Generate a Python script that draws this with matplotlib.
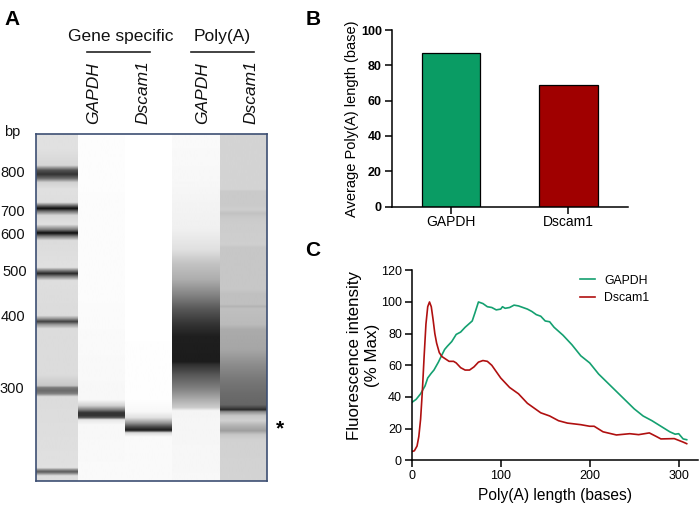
import numpy as np
import matplotlib
matplotlib.use("Agg")
import matplotlib.pyplot as plt

plt.rcParams['font.family'] = ['Liberation Sans', 'DejaVu Sans']

W, H = 699, 511

# Panel B
bar_names = ['GAPDH', 'Dscam1']
bar_values = [87, 69]
bar_colors = ['#0A9C64', '#A00000']

# Panel C (bases, % max)
gapdh_x = [0, 5, 10, 15, 18, 22, 25, 30, 33, 37, 40, 45, 50, 55, 60, 65, 68, 71, 75, 80, 85, 90, 95, 100, 102, 105, 110, 115, 120, 130, 135, 140, 145, 150, 155, 160, 170, 180, 190, 200, 210, 220, 230, 240, 250, 260, 270, 280, 290, 296, 300, 305, 309]
gapdh_y = [36.5, 38.5, 42, 47, 52, 55, 57, 62, 65.5, 70, 72, 75, 79.5, 81, 84, 86.5, 88, 93, 100, 99, 97, 96.5, 95, 95.5, 97, 96, 96.5, 98, 97.5, 95.5, 94, 92, 91, 88, 87.5, 84, 79, 73, 66, 61.5, 54.5, 49, 43.5, 38, 32.5, 28, 25, 21.5, 18, 16.5, 16.8, 13.5, 13]
dscam_x = [0, 3, 6, 8, 10, 12, 14, 16, 18, 20, 22, 24, 26, 28, 31, 34, 38, 42, 47, 50, 55, 60, 65, 70, 75, 80, 85, 90, 100, 110, 120, 130, 145, 155, 165, 175, 190, 200, 205, 215, 230, 245, 255, 267, 275, 280, 295, 305, 309]
dscam_y = [5.5, 6, 9, 15, 26, 44, 66, 86, 97, 100, 97, 89, 80, 74, 68, 65.5, 64, 62.5, 62.5, 61.5, 58.5, 57, 57, 59, 62, 63, 62.5, 60, 52, 46, 42, 36, 30, 28, 25, 23.5, 22.5, 21.5, 21.5, 18, 16, 16.8, 16.2, 17.3, 15, 13.5, 13.7, 11.5, 10.5]

# Panel A text
ladder_sizes = ['800', '700', '600', '500', '400', '300']
lane_names = ['GAPDH', 'Dscam1', 'GAPDH', 'Dscam1']

# Panel A gel lanes: (pixel row, grey level) stops
lane1 = [(134,.88),(150,.88),(166,.84),(171,.32),(175,.2),(179,.42),(183,.82),(190,.88),(203,.87),(206,.45),(209,.05),(212,.45),(216,.84),(225,.88),(230,.50),(233.5,.05),(237,.50),(241,.86),(268,.88),(271,.5),(274,.15),(277,.5),(281,.87),(316,.86),(319,.6),(322,.25),(325,.6),(329,.86),(375,.86),(386,.78),(388,.48),(391,.42),(394,.5),(397,.86),(468,.88),(470,.55),(472,.35),(474,.6),(476,.87),(481,.87)]
lane2 = [(134,1),(138,.99),(300,.985),(400,.97),(406,.82),(410,.5),(413,.2),(416,.2),(418,.35),(420,.9),(425,.97),(481,.98)]
lane3 = [(134,1),(400,.995),(412,.97),(418,.88),(423,.6),(427,.3),(430,.12),(431,.2),(433,.85),(437,.98),(481,.98)]
lane4 = [(134,.98),(180,.97),(230,.94),(250,.88),(265,.76),(280,.68),(295,.52),(310,.34),(325,.2),(337,.12),(362,.11),(365,.19),(375,.34),(390,.52),(400,.68),(408,.8),(411,.96),(481,.97)]
lane5 = [(134,.83),(190,.83),(192,.79),(205,.79),(210,.81),(214,.76),(218,.79),(222,.8),(245,.81),(248,.78),(290,.78),(295,.75),(305,.75),(307,.7),(309,.75),(325,.73),(330,.67),(350,.65),(365,.55),(380,.47),(395,.42),(405,.4),(408,.28),(410,.15),(412,.55),(416,.78),(421,.82),(425,.72),(431,.62),(435,.78),(440,.82),(481,.83)]
lanes = [lane1, lane2, lane3, lane4, lane5]
lane_edges = [36, 78, 125, 172, 220, 267]


def ax_px(x0, y0, x1, y1):
    """Axes from pixel box (top-left origin)."""
    return fig.add_axes([x0 / W, 1 - y1 / H, (x1 - x0) / W, (y1 - y0) / H])


fig = plt.figure(figsize=(W / 100, H / 100), dpi=100)

# ---- gel ----
rows = np.arange(134, 481.5, 0.5)
for stops, x0, x1 in zip(lanes, lane_edges[:-1], lane_edges[1:]):
    a = ax_px(x0, 134, x1, 481)
    s = np.array(stops)
    col = np.interp(rows, s[:, 0], s[:, 1])[:, None]
    a.imshow(col, cmap='gray', vmin=0, vmax=1, aspect='auto', interpolation='bilinear')
    a.axis('off')
frame = ax_px(36, 134, 267, 481)
frame.patch.set_alpha(0)
frame.set_xticks([]); frame.set_yticks([])
for sp in frame.spines.values():
    sp.set_color('#3D4F73'); sp.set_linewidth(1.2)


def t(x, y, s, **kw):
    kw.setdefault('ha', 'center'); kw.setdefault('va', 'center')
    kw.setdefault('color', '#111111')
    fig.text(x / W, 1 - y / H, s, **kw)


t(12, 19, 'A', fontsize=15, fontweight='bold', color='black')
t(121, 36, 'Gene specific', fontsize=12.5)
t(222, 36, 'Poly(A)', fontsize=12.5)
for xa, xb in [(87, 150), (191, 254)]:
    fig.add_artist(plt.Line2D([xa / W, xb / W], [1 - 52.5 / H] * 2, color='#222222', lw=1.2))
for x, name in zip([94, 143, 203, 251], lane_names):
    t(x, 124, name, fontsize=12.5, style='italic', rotation=90, va='bottom')
t(12, 132, 'bp', fontsize=10.5)
for (x, y), lab in zip([(13, 173), (13, 212), (13, 235), (15, 272), (13, 317), (12, 389)], ladder_sizes):
    t(x, y, lab, fontsize=10.5)
t(280, 429, '*', fontsize=15, fontweight='bold', color='black')

# ---- panel B ----
axb = ax_px(391.7, 30, 628, 206.5)
axb.bar([0, 1], bar_values, width=0.495, color=bar_colors, edgecolor='black', linewidth=0.9)
axb.set_xlim(-0.502, 1.506)
axb.set_ylim(0, 100)
axb.set_xticks([0, 1], bar_names)
axb.set_yticks(range(0, 101, 20))
axb.set_ylabel('Average Poly(A) length (base)', fontsize=10.5)
axb.yaxis.set_label_coords(-0.14, 0.5)

# ---- panel C ----
axc = ax_px(411.7, 270.3, 698, 460.3)
axc.plot(gapdh_x, gapdh_y, color='#14A070', lw=1.2, label='GAPDH')
axc.plot(dscam_x, dscam_y, color='#B01010', lw=1.2, label='Dscam1')
axc.set_xlim(0, 321.7)
axc.set_ylim(0, 120)
axc.set_xticks([0, 100, 200, 300])
axc.set_yticks(range(0, 121, 20))
axc.set_xlabel('Poly(A) length (bases)', fontsize=11.2, labelpad=4)
axc.set_ylabel('Fluorescence intensity\n(% Max)', fontsize=12.2, linespacing=1.25)
axc.yaxis.set_label_coords(-0.111, 0.55)
axc.legend(loc='upper left', bbox_to_anchor=(0.55, 1.035), frameon=False, fontsize=8.8,
           handlelength=1.25, handletextpad=0.7, labelspacing=0.45)

for a in (axb, axc):
    a.spines['top'].set_visible(False)
    a.spines['right'].set_visible(False)
    a.spines['left'].set_linewidth(1.1)
    a.spines['bottom'].set_linewidth(1.1)
    a.tick_params(width=1.1, length=5, labelsize=9, pad=2)
axb.tick_params(axis='x', labelsize=10, pad=1)
for lab in axb.get_yticklabels():
    lab.set_fontweight('bold')

t(313, 19, 'B', fontsize=15, fontweight='bold', color='black')
t(313, 250, 'C', fontsize=15, fontweight='bold', color='black')

fig.savefig('out.png', dpi=100)
